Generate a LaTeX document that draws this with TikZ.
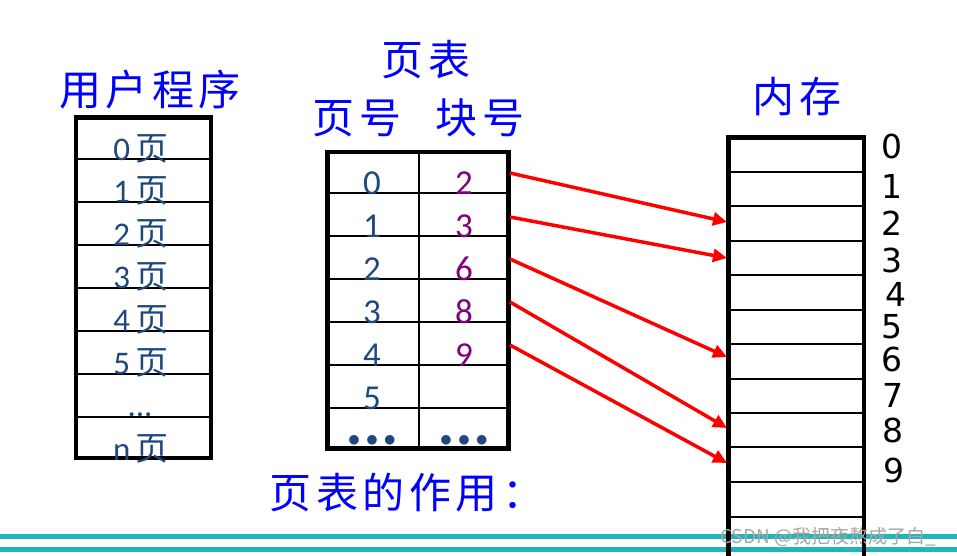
\documentclass[tikz,border=0pt]{standalone}
\usepackage{fontspec}
\setmainfont{Carlito}
\newfontfamily\cjk{Noto Sans CJK SC}
\newfontfamily\cjkwide[LetterSpace=11]{Noto Sans CJK SC}
\newfontfamily\memfont{DejaVu Sans}
\usetikzlibrary{arrows.meta}
\definecolor{lblblue}{RGB}{0,0,255}
\definecolor{cellblue}{RGB}{31,73,125}
\definecolor{cellpurple}{RGB}{128,0,128}
\definecolor{tealband}{RGB}{32,182,185}
\begin{document}
\begin{tikzpicture}[x=1pt,y=-1pt,
  lbl/.style={text=lblblue,font=\cjkwide\fontsize{42}{48}\selectfont,inner sep=0pt},
  upg/.style={text=cellblue,font=\fontsize{33}{38}\selectfont,inner sep=0pt,anchor=base},
  pg/.style={text=cellblue,font=\fontsize{35}{40}\selectfont,inner sep=0pt,anchor=base},
  blk/.style={text=cellpurple,font=\fontsize{35}{40}\selectfont,inner sep=0pt,anchor=base},
  memnum/.style={font=\memfont\fontsize{33}{38}\selectfont,inner sep=0pt,anchor=base},
  frame/.style={line width=4.5pt},
  gridline/.style={line width=2.5pt},
  ptr/.style={red,line width=3.5pt,-{Triangle[length=14pt,width=13pt]}},
  band/.style={tealband,line width=5pt}
]
\useasboundingbox (0,0) rectangle (957,555);
\fill[white] (0,0) rectangle (957,555);

% teal bands
\draw[band] (0,536.5) -- (957,536.5);
\draw[band] (0,549.5) -- (957,549.5);

% labels
\node[lbl] (lup) at (150,90) {用户程序};
\node[lbl] (lpt) at (426,60) {页表};
\node[lbl] (lpn) at (357,118) {页号};
\node[lbl] (lbn) at (480,118) {块号};
\node[lbl] (lmem) at (797,97) {内存};
\node[lbl] (lrole) at (407,493) {页表的作用：};

% user program box
\foreach \y in {159,202,245,288,331,374,417} \draw[gridline] (76,\y) -- (211,\y);
\draw[frame] (76,117.5) rectangle (211,458);
\node[upg] (u0) at (141,160) {0\,{\cjk 页}};
\node[upg] (u1) at (141,202) {1\,{\cjk 页}};
\node[upg] (u2) at (141,245) {2\,{\cjk 页}};
\node[upg] (u3) at (141,288) {3\,{\cjk 页}};
\node[upg] (u4) at (141,331) {4\,{\cjk 页}};
\node[upg] (u5) at (141,374) {5\,{\cjk 页}};
\node[upg] (udots) at (140,416) {...};
\node[upg] (un) at (141,460) {n\,{\cjk 页}};

% page table
\foreach \y in {193,236,279,322,365,408} \draw[gridline] (327.5,\y) -- (508.5,\y);
\draw[gridline] (419,152) -- (419,448.5);
\draw[frame] (327.5,152) rectangle (508.5,448.5);
\node[pg] (p0) at (372,194) {0};
\node[pg] (p1) at (372,237) {1};
\node[pg] (p2) at (372,280) {2};
\node[pg] (p3) at (372,323) {3};
\node[pg] (p4) at (372,366) {4};
\node[pg] (p5) at (372,409) {5};
\node[pg] (pd) at (372,446) {$\bullet\bullet\bullet$};
\node[blk] (b0) at (464,194) {2};
\node[blk] (b1) at (464,237) {3};
\node[blk] (b2) at (464,280) {6};
\node[blk] (b3) at (464,323) {8};
\node[blk] (b4) at (464,366) {9};
\node[pg] (bd) at (464,446) {$\bullet\bullet\bullet$};

% memory
\foreach \y in {172,206,241,275,310,344,379,413,447,482,517} \draw[gridline] (728.5,\y) -- (864,\y);
\draw[frame] (728.5,565) -- (728.5,137.5) -- (864,137.5) -- (864,565);
\node[memnum] (m0) at (892,158) {0};
\node[memnum] (m1) at (892,198) {1};
\node[memnum] (m2) at (892,235) {2};
\node[memnum] (m3) at (892,272) {3};
\node[memnum] (m4) at (896,306) {4};
\node[memnum] (m5) at (892,338) {5};
\node[memnum] (m6) at (892,371) {6};
\node[memnum] (m7) at (893,407) {7};
\node[memnum] (m8) at (893,442) {8};
\node[memnum] (m9) at (894,482) {9};

% arrows
\coordinate (s0) at (510,173);
\coordinate (s1) at (510,217);
\coordinate (s2) at (510,259);
\coordinate (s3) at (510,302);
\coordinate (s4) at (510,345);
\coordinate (t2) at (727,222);
\coordinate (t3) at (727,258);
\coordinate (t6) at (727,357);
\coordinate (t8) at (727,428);
\coordinate (t9) at (727,463);
\draw[ptr] (s0) -- (t2);
\draw[ptr] (s1) -- (t3);
\draw[ptr] (s2) -- (t6);
\draw[ptr] (s3) -- (t8);
\draw[ptr] (s4) -- (t9);

% watermark
\node[text=gray!70,font=\cjk\fontsize{19}{22}\selectfont,inner sep=0pt,anchor=west] (wm) at (720,537) {CSDN @我把夜熬成了白\_};
\end{tikzpicture}
\end{document}
